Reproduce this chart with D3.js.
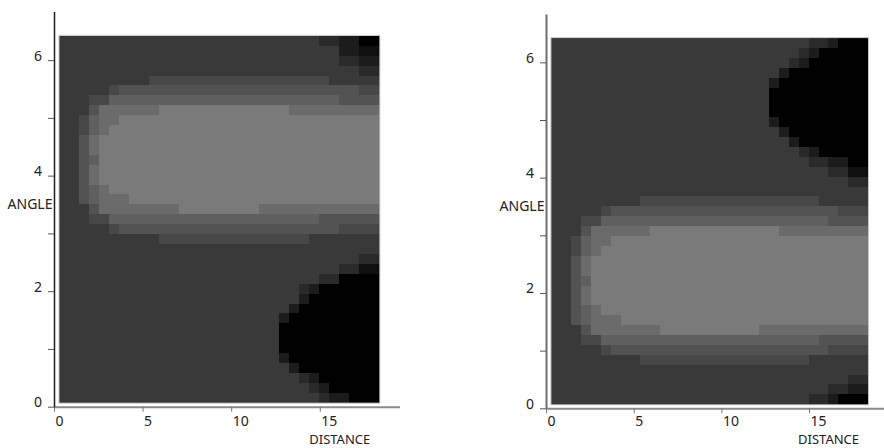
<!DOCTYPE html>
<html><head><meta charset="utf-8">
<script src="https://cdn.jsdelivr.net/npm/d3@7"></script>
<style>
body{margin:0;background:#fff}
svg{display:block}
text{font-family:"Noto Sans",sans-serif;font-size:14px;fill:#222}
</style>
</head><body>
<svg id="c" width="884" height="448"></svg>
<script>
// ---- data ----
const levelColors = ["#000000","#0f0f0f","#1c1c1c","#2a2a2a","#393939","#474747","#535353","#5f5f5f","#6b6b6b","#7a7a7a"];
const xTicks = [0, 5, 10, 15];
const yTicks = [0, 1, 2, 3, 4, 5, 6];
const yLabelled = [0, 2, 4, 6];
const xLabel = "DISTANCE";
const yLabel = "ANGLE";
const nCols = 32, nRows = 37;
const distExtent = [0.31, 18.36];
const angleExtent = [0.07, 6.42];
const axisDomainX = [0, 19.5];
const axisDomainY = [0, 6.84];

// run-length rows (count:level), top row first
const leftRuns = [
"26:4 2:3 2:2 2:0","28:4 2:2 2:1","28:4 2:3 2:2","30:4 2:3",
"9:4 18:5 5:4","5:4 1:5 24:6 2:5","3:4 2:5 23:7 4:6","3:4 1:6 6:8 13:9 9:8",
"2:4 1:5 1:7 2:8 26:9","2:4 1:5 1:7 1:8 27:9","2:4 1:6 1:8 28:9","2:4 1:6 1:8 28:9",
"2:4 1:6 1:7 28:9","2:4 1:6 1:8 28:9","2:4 1:6 1:8 28:9","2:4 1:6 1:7 1:8 27:9",
"2:4 1:6 1:7 3:8 25:9","3:4 1:6 8:8 8:9 12:8","3:4 2:5 21:7 6:6","5:4 1:5 22:6 4:5",
"10:4 15:5 7:4","32:4","30:4 2:3","28:4 2:3 2:1",
"26:4 2:3 4:0","24:4 1:3 1:2 6:0","24:4 1:2 7:0","23:4 1:2 8:0",
"22:4 1:2 9:0","22:4 10:0","22:4 10:0","22:4 10:0",
"22:4 1:2 9:0","23:4 1:2 8:0","24:4 1:3 1:2 6:0","25:4 1:3 1:2 5:0",
"26:4 1:3 2:2 3:0"
];
const rightRuns = [
"26:4 2:3 1:2 3:0","25:4 1:3 1:2 5:0","24:4 1:3 1:2 6:0","23:4 1:2 8:0",
"22:4 1:2 9:0","22:4 10:0","22:4 10:0","22:4 10:0",
"22:4 1:2 9:0","23:4 1:2 8:0","24:4 1:2 7:0","25:4 1:3 1:2 5:0",
"26:4 2:3 2:2 2:0","28:4 2:3 2:1","30:4 2:3","32:4",
"9:4 18:5 5:4","5:4 1:5 23:6 3:5","3:4 2:5 23:7 4:6","3:4 1:6 6:8 13:9 9:8",
"2:4 1:5 1:7 2:8 26:9","2:4 1:5 1:7 1:8 27:9","2:4 1:6 1:8 28:9","2:4 1:6 1:8 28:9",
"2:4 1:6 1:7 28:9","2:4 1:6 1:8 28:9","2:4 1:6 1:8 28:9","2:4 1:6 1:7 1:8 27:9",
"2:4 1:6 1:7 3:8 25:9","3:4 1:6 7:8 10:9 11:8","3:4 2:5 22:7 5:6","5:4 1:5 22:6 4:5",
"9:4 17:5 6:4","32:4","30:4 2:3","28:4 2:3 2:2",
"26:4 2:3 1:2 3:0"
];

// ---- drawing ----
const panels = [
  {runs: leftRuns,  xr: [54, 399.5], yr: [406.7, 11.6], yAxisColor: "#1e1e1e", yAxisW: 1.5, tickTextY: 19, titleY: 444},
  {runs: rightRuns, xr: [546, 888],  yr: [408.3, 13.9], yAxisColor: "#6e6e6e", yAxisW: 2, tickTextY: 18, titleY: 444.2}
];

function parseRuns(runs) {
  const cells = [];
  runs.forEach((row, j) => {
    let i = 0;
    row.trim().split(/\s+/).forEach(tok => {
      const [n, lv] = tok.split(":").map(Number);
      for (let k = 0; k < n; k++) { cells.push({i: i, j: j, level: lv}); i++; }
    });
    if (i !== nCols) console.warn("row", j, "has", i, "cells");
  });
  return cells;
}

const svg = d3.select("#c");
const dw = (distExtent[1] - distExtent[0]) / nCols;
const dh = (angleExtent[1] - angleExtent[0]) / nRows;

panels.forEach(p => {
  const x = d3.scaleLinear().domain(axisDomainX).range(p.xr);
  const y = d3.scaleLinear().domain(axisDomainY).range(p.yr);
  const g = svg.append("g");
  const cells = parseRuns(p.runs);
  const color = d3.scaleOrdinal().domain(d3.range(levelColors.length)).range(levelColors);

  g.append("g").selectAll("rect").data(cells).join("rect")
    .attr("x", d => x(distExtent[0] + d.i * dw))
    .attr("width", d => x(distExtent[0] + (d.i + 1) * dw) - x(distExtent[0] + d.i * dw) + 0.4)
    .attr("y", d => y(angleExtent[1] - d.j * dh))
    .attr("height", d => y(angleExtent[1] - (d.j + 1) * dh) - y(angleExtent[1] - d.j * dh) + 0.4)
    .attr("fill", d => color(d.level))
    .attr("shape-rendering", "crispEdges");

  g.append("rect")
    .attr("x", x(distExtent[0]) - 0.5).attr("y", y(angleExtent[1]) - 0.5)
    .attr("width", x(distExtent[1]) - x(distExtent[0]) + 1)
    .attr("height", y(angleExtent[0]) - y(angleExtent[1]) + 1)
    .attr("fill", "none").attr("stroke", "#c4c4c4").attr("stroke-width", 1);

  // x axis
  const xa = g.append("g").attr("transform", `translate(0,${p.yr[0]})`)
    .call(d3.axisBottom(x).tickValues(xTicks).tickSize(5).tickSizeOuter(0));
  xa.select(".domain").attr("stroke", "#8a8a8a").attr("stroke-width", 2);
  xa.selectAll(".tick line").attr("stroke", "#777");
  xa.selectAll(".tick text").attr("text-anchor", "start").attr("x", 1)
    .attr("y", p.tickTextY).attr("dy", "0")
    .style("font-family", '"Noto Sans",sans-serif').style("font-size", "14px").attr("fill", "#222");

  // y axis
  const ya = g.append("g").attr("transform", `translate(${p.xr[0]},0)`)
    .call(d3.axisLeft(y).tickValues(yTicks).tickSize(6).tickSizeOuter(0).tickPadding(6)
      .tickFormat(d => yLabelled.includes(d) ? d : ""));
  ya.select(".domain").attr("stroke", p.yAxisColor).attr("stroke-width", p.yAxisW);
  ya.selectAll(".tick line").attr("stroke", "#555");
  ya.selectAll(".tick text").attr("dy", "0")
    .style("font-family", '"Noto Sans",sans-serif').style("font-size", "14px").attr("fill", "#222");

  g.append("text").attr("x", p.xr[0] - 1.5).attr("y", y(3.43))
    .attr("text-anchor", "end").text(yLabel);
  g.append("text").attr("x", x(17.85)).attr("y", p.titleY)
    .attr("text-anchor", "end").style("font-size", "13px").text(xLabel);
});
</script>
</body></html>
